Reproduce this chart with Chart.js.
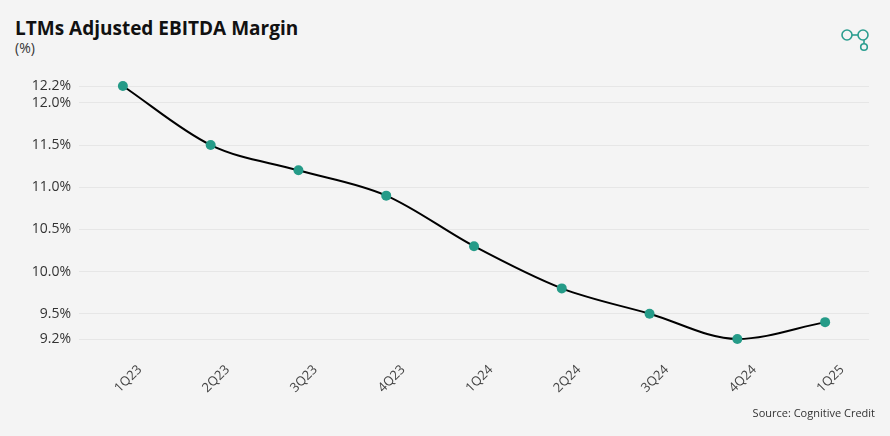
<!DOCTYPE html>
<html>
<head>
<meta charset="utf-8">
<script src="https://cdn.jsdelivr.net/npm/chart.js@4.4.1/dist/chart.umd.min.js"></script>
<style>
  html, body { margin: 0; padding: 0; background: #f4f4f4; }
  body { width: 890px; height: 436px; position: relative; overflow: hidden; font-family: "Open Sans", sans-serif; }
  #title { position: absolute; left: 15px; top: 15px; font-size: 19px; font-weight: 700; color: #111; white-space: nowrap; }
  #sub { position: absolute; left: 15px; top: 38px; font-size: 14px; color: #333; }
  #source { position: absolute; right: 15px; top: 405px; font-size: 11px; color: #333; }
  #logo { position: absolute; left: 838px; top: 26px; }
  #wrap { position: absolute; left: 0; top: 0; width: 890px; height: 436px; }
</style>
</head>
<body>
<div id="title">LTMs Adjusted EBITDA Margin</div>
<div id="sub">(%)</div>
<svg id="logo" width="36" height="30" viewBox="0 0 36 30">
  <circle cx="9" cy="9" r="5" fill="none" stroke="#2a9d8f" stroke-width="1.6"/>
  <circle cx="25" cy="9" r="5" fill="none" stroke="#2a9d8f" stroke-width="1.6"/>
  <line x1="14" y1="9" x2="20" y2="9" stroke="#2a9d8f" stroke-width="1.6"/>
  <line x1="26" y1="14" x2="26" y2="17.5" stroke="#2a9d8f" stroke-width="1.6"/>
  <circle cx="26" cy="21" r="3.3" fill="none" stroke="#2a9d8f" stroke-width="1.6"/>
</svg>
<div id="wrap"><canvas id="c" width="890" height="436"></canvas></div>
<div id="source">Source: Cognitive Credit</div>
<script>
const categories = ["1Q23", "2Q23", "3Q23", "4Q23", "1Q24", "2Q24", "3Q24", "4Q24", "1Q25"];
const marginValues = [12.2, 11.5, 11.2, 10.9, 10.3, 9.8, 9.5, 9.2, 9.4];
const yTickValues = [9.2, 9.5, 10.0, 10.5, 11.0, 11.5, 12.0, 12.2];

const ctx = document.getElementById('c').getContext('2d');
new Chart(ctx, {
  type: 'line',
  data: {
    labels: categories,
    datasets: [{
      data: marginValues,
      borderColor: '#000000',
      borderWidth: 2,
      tension: 0.4,
      cubicInterpolationMode: 'monotone',
      pointRadius: 5,
      pointHoverRadius: 5,
      pointBackgroundColor: '#259b88',
      pointBorderColor: '#259b88',
      pointBorderWidth: 0,
      fill: false,
      clip: false
    }]
  },
  options: {
    responsive: false,
    animation: false,
    devicePixelRatio: 1,
    layout: { padding: { top: 86, right: 21, left: 0, bottom: 0 } },
    plugins: { legend: { display: false }, tooltip: { enabled: false } },
    scales: {
      x: {
        offset: true,
        grid: { display: false, drawTicks: false },
        border: { display: false },
        ticks: {
          autoSkip: false,
          minRotation: 45,
          maxRotation: 45,
          labelOffset: 17,
          padding: 23,
          color: '#444',
          font: { family: 'Open Sans', size: 13 }
        },
        afterFit: (s) => { s.height = 97; }
      },
      y: {
        min: 9.2,
        max: 12.2,
        grid: { color: '#e6e6e6', drawTicks: false, lineWidth: 1 },
        border: { display: false },
        afterBuildTicks: (s) => { s.ticks = yTickValues.map(v => ({ value: v })); },
        afterFit: (s) => { s.width = 79; },
        ticks: {
          padding: 8,
          color: '#333',
          font: { family: 'Open Sans', size: 14 },
          callback: (v) => Number(v).toFixed(1) + '%'
        }
      }
    }
  }
});
</script>
</body>
</html>
